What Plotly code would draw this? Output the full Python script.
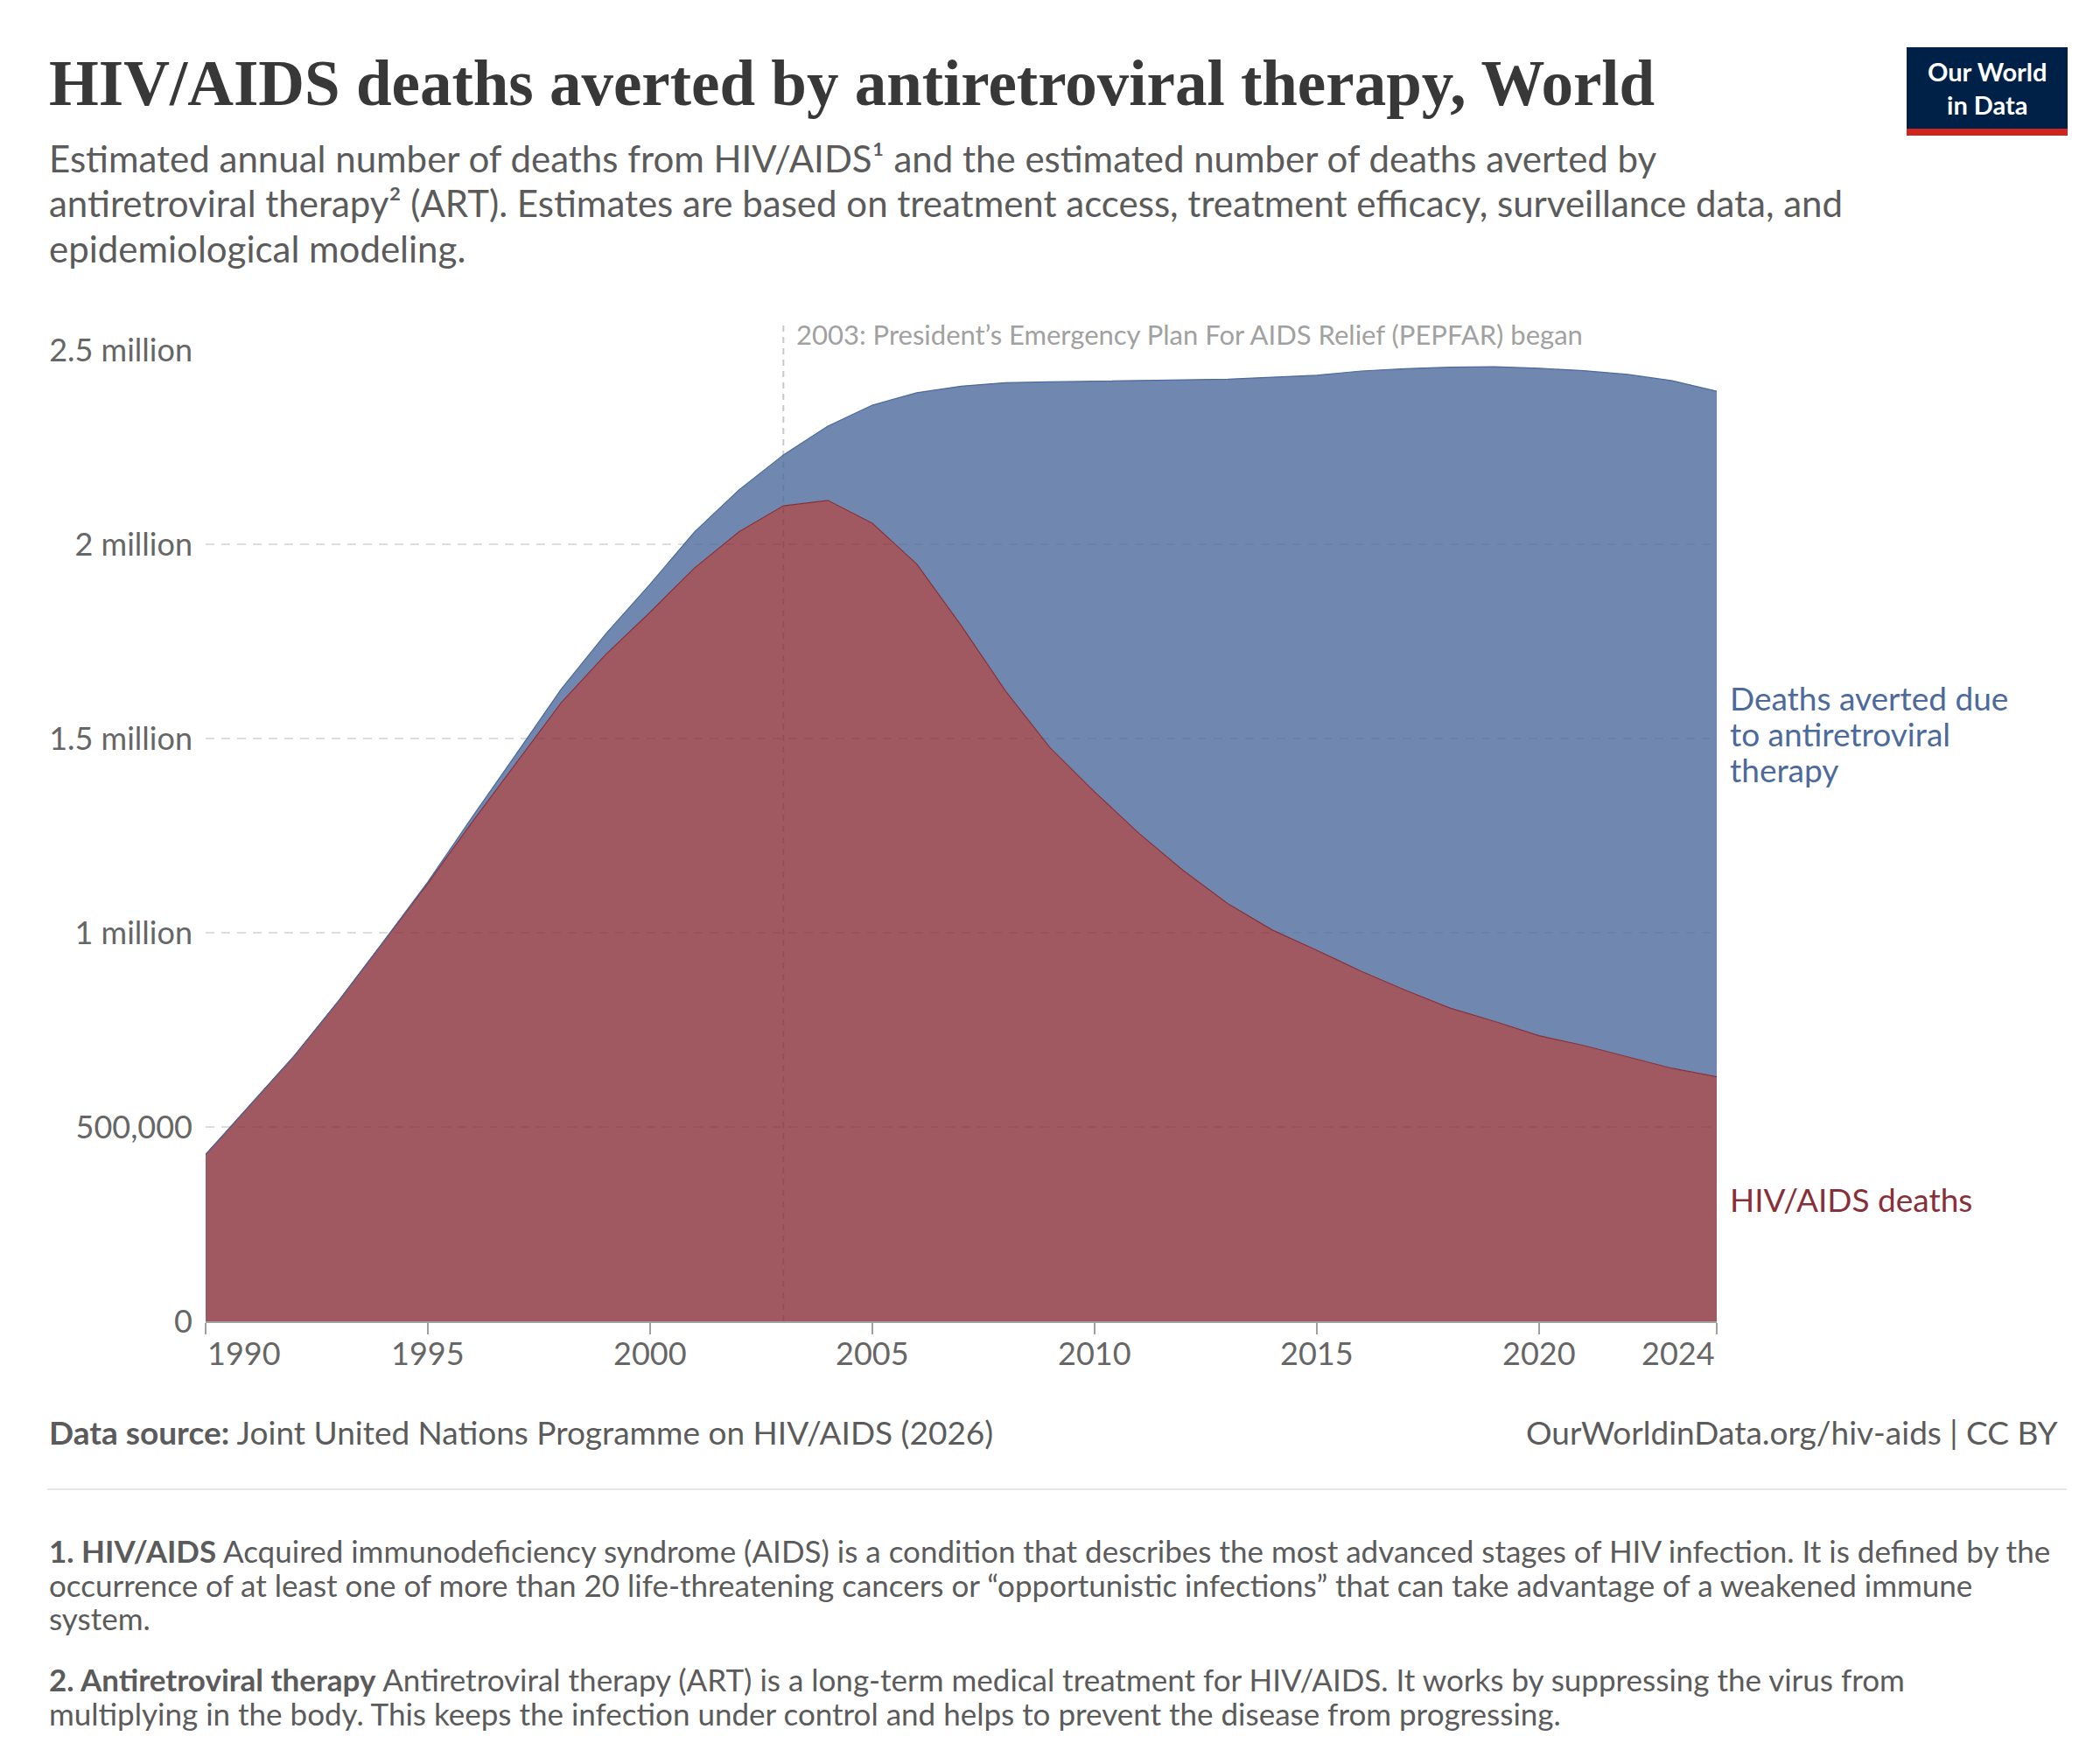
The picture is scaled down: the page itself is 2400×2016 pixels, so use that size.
import plotly.graph_objects as go

# ---------------- data ----------------
years = list(range(1990, 2025))
hiv_deaths = [
    429000, 556000, 684000, 826000, 977000, 1127000, 1285000, 1438000, 1592000, 1716000,
    1825000, 1939000, 2032000, 2099000, 2113000, 2054000, 1949000, 1791000, 1622000, 1476000,
    1363000, 1256000, 1160000, 1075000, 1007000, 955000, 901000, 852000, 806000, 772000,
    735000, 710000, 681000, 651000, 629000,
]
deaths_averted = [
    0, 0, 0, 0, 0, 4000, 13000, 24000, 35000, 53000,
    72000, 93000, 108000, 131000, 191000, 304000, 441000, 616000, 794000, 942000,
    1057000, 1166000, 1264000, 1350000, 1423000, 1480000, 1545000, 1600000, 1650000, 1685000,
    1718000, 1737000, 1756000, 1770000, 1765000,
]
y_tick_vals = [0, 500000, 1000000, 1500000, 2000000, 2500000]
y_tick_text = ["0", "500,000", "1 million", "1.5 million", "2 million", "2.5 million"]
x_tick_vals = [1990, 1995, 2000, 2005, 2010, 2015, 2020, 2024]
x_tick_text = ["1990", "1995", "2000", "2005", "2010", "2015", "2020", "2024"]
event_year = 2003
event_text = "2003: President\u2019s Emergency Plan For AIDS Relief (PEPFAR) began"

title = "HIV/AIDS deaths averted by antiretroviral therapy, World"
subtitle_lines = [
    "Estimated annual number of deaths from HIV/AIDS\u00b9 and the estimated number of deaths averted by",
    "antiretroviral therapy\u00b2 (ART). Estimates are based on treatment access, treatment efficacy, surveillance data, and",
    "epidemiological modeling.",
]
red_label = "HIV/AIDS deaths"
blue_label_lines = ["Deaths averted due", "to antiretroviral", "therapy"]
logo_text = "Our World<br>in Data"
source_text = "<b>Data source:</b> Joint United Nations Programme on HIV/AIDS (2026)"
url_text = "OurWorldinData.org/hiv-aids | CC BY"
note_lines = [
    ["<b>1. HIV/AIDS</b> Acquired immunodeficiency syndrome (AIDS) is a condition that describes the most advanced stages of HIV infection. It is defined by the",
     "occurrence of at least one of more than 20 life-threatening cancers or \u201copportunistic infections\u201d that can take advantage of a weakened immune",
     "system."],
    ["<b>2. Antiretroviral therapy</b> Antiretroviral therapy (ART) is a long-term medical treatment for HIV/AIDS. It works by suppressing the virus from",
     "multiplying in the body. This keeps the infection under control and helps to prevent the disease from progressing."],
]

# ---------------- layout geometry ----------------
W, H = 2400, 2016
L, R, T, B = 227, 1954, 392, 1502


def px(x):
    return (x - L) / (R - L)


def py(y):
    return (B - y) / (B - T)


RED = "#883039"
BLUE = "#4C6A9C"
RED_FILL = "rgba(136,48,57,0.8)"
BLUE_FILL = "rgba(76,106,156,0.8)"
FONT = "Lato"

fig = go.Figure()
fig.add_trace(go.Scatter(
    x=years, y=hiv_deaths, name="HIV/AIDS deaths", stackgroup="one",
    mode="lines", line=dict(color=RED, width=1.2), fillcolor=RED_FILL,
    hoverinfo="x+y",
))
fig.add_trace(go.Scatter(
    x=years, y=deaths_averted, name="Deaths averted due to antiretroviral therapy",
    stackgroup="one", mode="lines", line=dict(color=BLUE, width=1.2), fillcolor=BLUE_FILL,
    hoverinfo="x+y",
))

annotations = []
shapes = []

# title & subtitle
annotations.append(dict(text="<b>" + title + "</b>", x=px(46), y=py(88), xref="paper", yref="paper",
                        xanchor="left", yanchor="middle", showarrow=False,
                        font=dict(family="Liberation Serif", size=73, color="#383838")))
for line, yy in zip(subtitle_lines, [173, 224, 276]):
    annotations.append(dict(text=line, x=px(46), y=py(yy), xref="paper", yref="paper",
                            xanchor="left", yanchor="middle", showarrow=False,
                            font=dict(family=FONT, size=42, color="#5b5b5b")))

# logo
shapes.append(dict(type="rect", xref="paper", yref="paper", x0=px(2171), x1=px(2355),
                   y0=py(147), y1=py(46), fillcolor="#002147", line=dict(width=0), layer="above"))
shapes.append(dict(type="rect", xref="paper", yref="paper", x0=px(2171), x1=px(2355),
                   y0=py(147), y1=py(139), fillcolor="#ce261e", line=dict(width=0), layer="above"))
annotations.append(dict(text="<b>" + logo_text.replace("<br>", "</b><br><b>") + "</b>",
                        x=px(2263), y=py(92), xref="paper", yref="paper", align="center",
                        xanchor="center", yanchor="middle", showarrow=False,
                        font=dict(family=FONT, size=29, color="white")))

# event line + label
shapes.append(dict(type="line", xref="x", yref="paper", x0=event_year, x1=event_year,
                   y0=0, y1=py(359), line=dict(color="#c8c8c8", width=2, dash="7px,6px"), layer="below"))
annotations.append(dict(text=event_text, x=px(900), y=py(374), xref="paper", yref="paper",
                        xanchor="left", yanchor="middle", showarrow=False,
                        font=dict(family=FONT, size=31, color="#a1a1a1")))

# x tick labels
for v, t in zip(x_tick_vals, x_tick_text):
    anchor = "center"
    if v == x_tick_vals[0]:
        anchor = "left"
    elif v == x_tick_vals[-1]:
        anchor = "right"
    annotations.append(dict(text=t, x=v, y=py(1538), xref="x", yref="paper",
                            xanchor=anchor, yanchor="middle", showarrow=False,
                            font=dict(family=FONT, size=36, color="#666666")))

# series labels at right (placed at the middle of each band at the last year)
last_red = hiv_deaths[-1]
last_blue = deaths_averted[-1]
annotations.append(dict(text=red_label, x=years[-1], y=last_red / 2, xref="x", yref="y",
                        xanchor="left", yanchor="middle", xshift=13, showarrow=False,
                        font=dict(family=FONT, size=37, color=RED)))
n = len(blue_label_lines)
for i, line in enumerate(blue_label_lines):
    annotations.append(dict(text=line, x=years[-1], y=last_red + last_blue / 2, xref="x", yref="y",
                            xanchor="left", yanchor="middle", xshift=13,
                            yshift=-(i - (n - 1) / 2) * 41, showarrow=False,
                            font=dict(family=FONT, size=37, color=BLUE)))

# footer
annotations.append(dict(text=source_text, x=px(46), y=py(1628), xref="paper", yref="paper",
                        xanchor="left", yanchor="middle", showarrow=False,
                        font=dict(family=FONT, size=37, color="#5b5b5b")))
annotations.append(dict(text=url_text, x=px(2347), y=py(1628), xref="paper", yref="paper",
                        xanchor="right", yanchor="middle", showarrow=False,
                        font=dict(family=FONT, size=37, color="#5b5b5b")))
shapes.append(dict(type="line", xref="paper", yref="paper", x0=px(46), x1=px(2354),
                   y0=py(1694), y1=py(1694), line=dict(color="#e6e6e6", width=2)))

note_y = [[1764, 1803, 1841], [1911, 1950]]
for lines, ys in zip(note_lines, note_y):
    for line, yy in zip(lines, ys):
        annotations.append(dict(text=line, x=px(46), y=py(yy), xref="paper", yref="paper",
                                xanchor="left", yanchor="middle", showarrow=False,
                                font=dict(family=FONT, size=35, color="#5b5b5b")))

fig.update_layout(
    width=W, height=H,
    margin=dict(l=L, r=W - R, t=T, b=H - B, pad=0),
    paper_bgcolor="white", plot_bgcolor="white",
    showlegend=False,
    font=dict(family=FONT, color="#666666"),
    annotations=annotations, shapes=shapes,
    xaxis=dict(range=[years[0], years[-1]], tickvals=x_tick_vals, showticklabels=False,
               ticks="outside", ticklen=13, tickwidth=2, tickcolor="#a0a0a0",
               showline=True, linecolor="#a0a0a0", linewidth=2, showgrid=False, zeroline=False,
               fixedrange=True),
    yaxis=dict(range=[0, 2500000], tickvals=y_tick_vals, ticktext=y_tick_text,
               tickfont=dict(family=FONT, size=36, color="#666666"), ticks="",
               ticklabelstandoff=14,
               showgrid=True, gridcolor="#dddddd", gridwidth=2, griddash="10px,8px",
               zeroline=False, showline=False, fixedrange=True),
)

fig.write_html("out.html")
